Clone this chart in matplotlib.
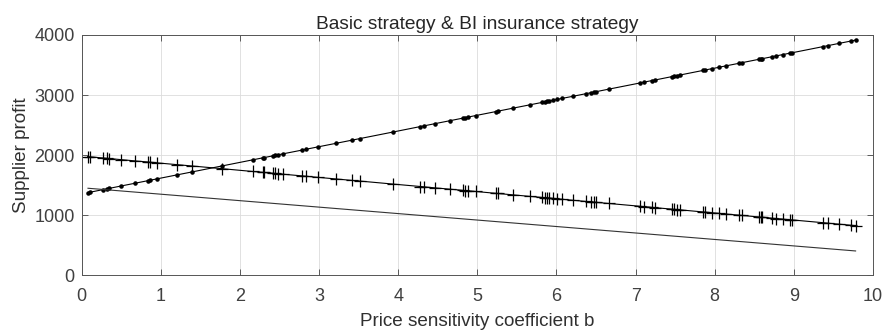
import matplotlib
matplotlib.use("Agg")
import matplotlib.pyplot as plt

plt.rcParams['font.family'] = ['Liberation Sans', 'DejaVu Sans']

# sampled price sensitivity coefficients
b = [0.075, 0.105, 0.273, 0.315, 0.349, 0.496, 0.673, 0.841, 0.862, 0.955,
     1.2, 1.397, 1.77, 2.16, 2.29, 2.31, 2.42, 2.44, 2.48, 2.55,
     2.79, 2.83, 2.99, 3.21, 3.42, 3.52, 3.93, 4.28, 4.32, 4.46,
     4.66, 4.82, 4.85, 4.88, 4.98, 5.23, 5.26, 5.45, 5.67, 5.82,
     5.85, 5.88, 5.91, 5.95, 6.01, 6.07, 6.21, 6.37, 6.44, 6.47,
     6.50, 6.66, 7.06, 7.10, 7.21, 7.24, 7.46, 7.49, 7.52, 7.56,
     7.85, 7.88, 7.97, 8.05, 8.14, 8.31, 8.35, 8.56, 8.58, 8.60,
     8.72, 8.78, 8.86, 8.95, 8.98, 9.37, 9.43, 9.57, 9.72, 9.78]

profit_dot = [1378, 1385, 1429, 1440, 1449, 1488, 1534, 1578, 1583, 1608,
              1672, 1723, 1821, 1923, 1957, 1962, 1991, 1996, 2006, 2025,
              2087, 2098, 2140, 2197, 2252, 2278, 2385, 2477, 2487, 2524,
              2576, 2618, 2626, 2634, 2660, 2725, 2733, 2783, 2840, 2879,
              2887, 2895, 2903, 2913, 2929, 2945, 2981, 3023, 3041, 3049,
              3057, 3099, 3203, 3214, 3243, 3250, 3308, 3316, 3324, 3334,
              3410, 3418, 3441, 3462, 3486, 3530, 3541, 3596, 3601, 3606,
              3637, 3653, 3674, 3698, 3705, 3807, 3823, 3860, 3899, 3915]

profit_plus = [1977, 1974, 1954, 1949, 1945, 1927, 1906, 1887, 1884, 1873,
               1844, 1821, 1777, 1730, 1715, 1713, 1700, 1697, 1693, 1684,
               1656, 1651, 1632, 1606, 1581, 1570, 1521, 1480, 1475, 1458,
               1435, 1416, 1412, 1409, 1397, 1367, 1364, 1341, 1315, 1298,
               1294, 1290, 1287, 1282, 1275, 1268, 1251, 1232, 1224, 1221,
               1217, 1198, 1151, 1146, 1133, 1129, 1103, 1100, 1096, 1092,
               1057, 1054, 1043, 1034, 1023, 1003, 998, 973, 971, 969,
               954, 947, 938, 927, 924, 878, 870, 854, 836, 829]

b_plain = [0.08, 9.78]
profit_plain = [1451, 408]

fig = plt.figure(figsize=(8.82, 3.31), dpi=100)
ax = fig.add_axes([0.0926, 0.1677, 0.8972, 0.7266])

ax.plot(b, profit_dot, color='k', lw=0.8, marker='.', ms=4.5)
ax.plot(b, profit_plus, color='k', lw=0.8, marker='+', ms=8, mew=0.9)
ax.plot(b_plain, profit_plain, color='#333333', lw=0.8)

ax.set_xlim(0, 10)
ax.set_ylim(0, 4000)
ax.set_xticks(range(0, 11))
ax.set_yticks([0, 1000, 2000, 3000, 4000])
ax.grid(True, color='#dcdcdc', lw=0.6)
ax.set_axisbelow(True)
ax.tick_params(direction='in', top=True, right=True, length=4, width=0.6,
               colors='#444444', labelsize=13, labelcolor='#404040')
ax.tick_params(axis='x', pad=9)
ax.tick_params(axis='y', pad=5)
for s in ax.spines.values():
    s.set_color('#555555')
    s.set_linewidth(0.7)

ax.set_title('Basic strategy & BI insurance strategy', fontsize=13.8, color='#262626', pad=4)
ax.set_xlabel('Price sensitivity coefficient b', fontsize=13.6, color='#303030', labelpad=6)
ax.set_ylabel('Supplier profit', fontsize=13.6, color='#303030', labelpad=3)

fig.savefig('out.png', dpi=100)
